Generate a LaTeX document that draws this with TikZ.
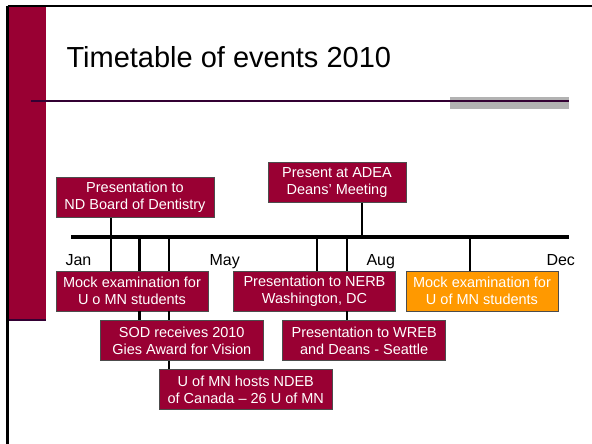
\documentclass[tikz,border=0pt]{standalone}
\usepackage{fontspec}
\setmainfont{Liberation Sans}
\definecolor{maroon}{HTML}{990033}
\definecolor{plum}{HTML}{330033}
\definecolor{amber}{HTML}{FF9900}
\definecolor{silver}{HTML}{B2B2B2}
\begin{document}
\begin{tikzpicture}[x=1pt,y=-1pt,
  event/.style={draw=black!70,line width=0.8pt,fill=maroon,text=white,
    font=\fontsize{14.5}{17.5}\selectfont,align=center,inner sep=0pt,minimum height=40pt},
  month/.style={anchor=base west,font=\fontsize{16}{19}\selectfont},
  tick/.style={line width=2.8pt}]
\useasboundingbox (0,0) rectangle (592,444);
% slide frame
\fill[maroon] (9,7) rectangle (46,320);
\draw[plum,line width=1.5pt] (9,320)--(46,320);
\draw[line width=2.5pt] (7.5,6)--(592,6);
\draw[line width=2.5pt] (7.5,6)--(7.5,444);
\fill[silver] (450,97) rectangle (569,109);
\draw[plum,line width=2pt] (31,101)--(569,101);
\node[anchor=base west,font=\fontsize{29}{34}\selectfont] (title) at (63,68) {Timetable of events 2010};
% time line
\coordinate (tl-start) at (71,237);
\coordinate (tl-end) at (569,237);
\draw[line width=3.2pt] (tl-start)--(tl-end);
\node[month] (jan) at (62,265) {Jan};
\node[month] (may) at (206,265) {May};
\node[month] (aug) at (363,265) {Aug};
\node[month] (dec) at (543,265) {Dec};
\coordinate (m1) at (111,237);
\coordinate (m2) at (139.5,237);
\coordinate (m3) at (169,237);
\coordinate (m4) at (317,237);
\coordinate (m5) at (347,237);
\coordinate (m6) at (362,237);
\coordinate (m7) at (470,237);
% events
\node[event,minimum width=158pt] (nd) at (135,197.5) {Presentation to\\ND Board of Dentistry};
\node[event,minimum width=138pt] (adea) at (337,182.5) {Present at ADEA\\Deans’ Meeting};
\node[event,minimum width=152pt] (mock1) at (132,291) {Mock examination for\\U o MN students};
\node[event,minimum width=162pt] (nerb) at (314.5,291) {Presentation to NERB\\Washington, DC};
\node[event,minimum width=152pt,fill=amber] (mock2) at (482,291) {Mock examination for\\U of MN students};
\node[event,minimum width=163pt] (sod) at (181.7,340.7) {SOD receives 2010\\Gies Award for Vision};
\node[event,minimum width=163pt] (wreb) at (364.2,340.7) {Presentation to WREB\\and Deans - Seattle};
\node[event,minimum width=173pt] (hosts) at (245.8,389.7) {U of MN hosts NDEB\\of Canada – 26 U of MN};
% ticks
\draw[tick] (nd.south -| m1)--(mock1.north -| m1);
\draw[tick] (m2)--(mock1.north -| m2);
\draw[tick] (mock1.south -| m2)--(sod.north -| m2);
\draw[tick] (m3)--(mock1.north -| m3);
\draw[tick] (mock1.south -| m3)--(sod.north -| m3);
\draw[tick] (sod.south -| m3)--(hosts.north -| m3);
\draw[tick] (m4)--(nerb.north -| m4);
\draw[tick] (m5)--(nerb.north -| m5);
\draw[tick] (nerb.south -| m5)--(wreb.north -| m5);
\draw[tick] (adea.south -| m6)--(m6);
\draw[tick] (m7)--(mock2.north -| m7);
\end{tikzpicture}
\end{document}
